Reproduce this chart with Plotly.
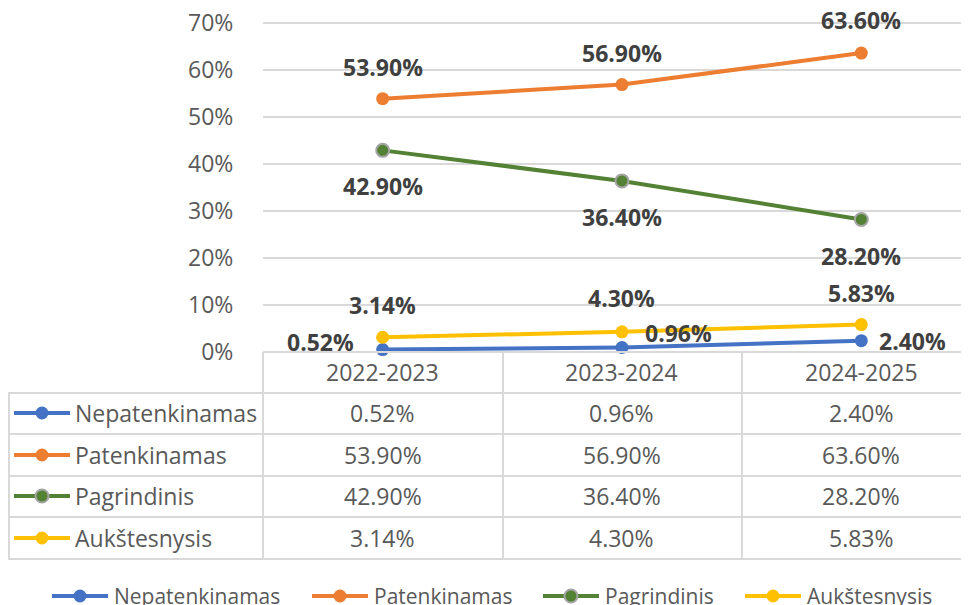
import plotly.graph_objects as go

# Duomenys
periodai = ["2022-2023", "2023-2024", "2024-2025"]
serijos = ["Nepatenkinamas", "Patenkinamas", "Pagrindinis", "Aukštesnysis"]
nepatenkinamas = [0.52, 0.96, 2.40]
patenkinamas = [53.90, 56.90, 63.60]
pagrindinis = [42.90, 36.40, 28.20]
aukstesnysis = [3.14, 4.30, 5.83]
y_ticks = [0, 10, 20, 30, 40, 50, 60, 70]

reiksmes = [nepatenkinamas, patenkinamas, pagrindinis, aukstesnysis]

# Stilius (puslapis turi 8px kraštą, todėl figūra mažesnė ir koordinatės pastumtos)
OFF = 8
W, H = 969 - OFF, 605 - OFF
spalvos = ["#4472C4", "#ED7D31", "#548235", "#FFC000"]
konturai = ["#4472C4", "#ED7D31", "#A5A5A5", "#FFC000"]
FONT = "Open Sans"
PILKA = "#595959"
TINKLAS = "#D9D9D9"

# etikeciu poslinkiai (xanchor, xshift, yshift) kiekvienam taskui
poslinkiai = [
    [("right", -27, 8), ("left", 21, 14), ("left", 16, 0)],
    [("center", 0, 32), ("center", 0, 32), ("center", 0, 33)],
    [("center", 0, -36), ("center", 0, -36), ("center", 0, -37)],
    [("center", 0, 32), ("center", 0, 34), ("center", 0, 32)],
]


def px_x(x):
    return (x - OFF) / W


def px_y(y):
    return 1 - (y - OFF) / H


fig = go.Figure()
annotations = []
shapes = []

for i, (vardas, vals) in enumerate(zip(serijos, reiksmes)):
    fig.add_trace(go.Scatter(
        x=periodai, y=vals, name=vardas, mode="lines+markers",
        line=dict(color=spalvos[i], width=4),
        marker=dict(size=13, color=spalvos[i],
                    line=dict(color=konturai[i], width=2 if i == 2 else 0)),
        cliponaxis=False, showlegend=False,
    ))
    for j, v in enumerate(vals):
        xa, xs, ys = poslinkiai[i][j]
        annotations.append(dict(
            x=periodai[j], y=v, xref="x", yref="y", text=f"{v:.2f}%",
            showarrow=False, xanchor=xa, yanchor="middle", xshift=xs, yshift=ys,
            font=dict(family=FONT, size=23, color="#404040", weight="bold"),
        ))

# Lentele po grafiku
virsus, eil_h = 352, [393, 434, 476, 517, 559]
stulp = [263, 503, 742]
shapes.append(dict(type="line", xref="paper", yref="paper",
                   x0=px_x(263), x1=1, y0=px_y(virsus), y1=px_y(virsus),
                   line=dict(color=TINKLAS, width=2)))
for y in eil_h:
    shapes.append(dict(type="line", xref="paper", yref="paper",
                       x0=px_x(8), x1=1, y0=px_y(y), y1=px_y(y),
                       line=dict(color=TINKLAS, width=2)))
shapes.append(dict(type="line", xref="paper", yref="paper",
                   x0=px_x(9), x1=px_x(9), y0=px_y(393), y1=px_y(559),
                   line=dict(color=TINKLAS, width=2)))
for x in stulp:
    shapes.append(dict(type="line", xref="paper", yref="paper",
                       x0=px_x(x), x1=px_x(x), y0=px_y(virsus), y1=px_y(559),
                       line=dict(color=TINKLAS, width=2)))

for j, p in enumerate(periodai):
    annotations.append(dict(x=p, y=px_y(372), xref="x", yref="paper", text=p,
                            showarrow=False, yanchor="middle",
                            font=dict(family=FONT, size=23, color=PILKA)))

eil_centrai = [413, 455, 496, 538]
for i, (vardas, vals) in enumerate(zip(serijos, reiksmes)):
    yc = px_y(eil_centrai[i])
    shapes.append(dict(type="line", xref="paper", yref="paper",
                       x0=px_x(14), x1=px_x(70), y0=yc, y1=yc,
                       line=dict(color=spalvos[i], width=4)))
    shapes.append(dict(type="circle", xref="paper", yref="paper",
                       x0=px_x(42 - 6.5), x1=px_x(42 + 6.5),
                       y0=yc - 6.5 / H, y1=yc + 6.5 / H,
                       fillcolor=spalvos[i],
                       line=dict(color=konturai[i], width=2 if i == 2 else 0)))
    annotations.append(dict(x=px_x(73), y=yc, xref="paper", yref="paper", text=vardas,
                            showarrow=False, xanchor="left", yanchor="middle",
                            font=dict(family=FONT, size=23, color=PILKA)))
    for j, v in enumerate(vals):
        annotations.append(dict(x=periodai[j], y=yc, xref="x", yref="paper",
                                text=f"{v:.2f}%", showarrow=False, yanchor="middle",
                                font=dict(family=FONT, size=23, color=PILKA)))

# Legenda apacioje
leg_x = [52, 312, 543, 745]
leg_y = px_y(596)
for i, vardas in enumerate(serijos):
    x0 = leg_x[i]
    shapes.append(dict(type="line", xref="paper", yref="paper",
                       x0=px_x(x0), x1=px_x(x0 + 56), y0=leg_y, y1=leg_y,
                       line=dict(color=spalvos[i], width=4)))
    shapes.append(dict(type="circle", xref="paper", yref="paper",
                       x0=px_x(x0 + 28 - 6.5), x1=px_x(x0 + 28 + 6.5),
                       y0=leg_y - 6.5 / H, y1=leg_y + 6.5 / H,
                       fillcolor=spalvos[i],
                       line=dict(color=konturai[i], width=2 if i == 2 else 0)))
    annotations.append(dict(x=px_x(x0 + 60), y=leg_y, xref="paper", yref="paper",
                            text=vardas, showarrow=False, xanchor="left", yanchor="middle",
                            font=dict(family=FONT, size=21, color=PILKA)))

fig.update_layout(
    width=W, height=H,
    margin=dict(l=0, r=0, t=0, b=0, autoexpand=False),
    paper_bgcolor="white", plot_bgcolor="white",
    font=dict(family=FONT, color=PILKA),
    xaxis=dict(domain=[px_x(263), 1], range=[-0.5, 2.45], showgrid=False,
               showticklabels=False, zeroline=False, showline=False, automargin=False),
    yaxis=dict(domain=[px_y(352), px_y(18.3)], range=[0, 71], tickvals=y_ticks,
               ticktext=[f"{v}%" for v in y_ticks], automargin=False,
               ticklabeloverflow="allow",
               showgrid=True, gridcolor=TINKLAS, gridwidth=2,
               zeroline=False, showline=False, ticks="outside", ticklen=24,
               tickcolor="rgba(0,0,0,0)",
               tickfont=dict(family=FONT, size=23, color=PILKA)),
    annotations=annotations,
    shapes=shapes,
)

fig.write_html("out.html")
